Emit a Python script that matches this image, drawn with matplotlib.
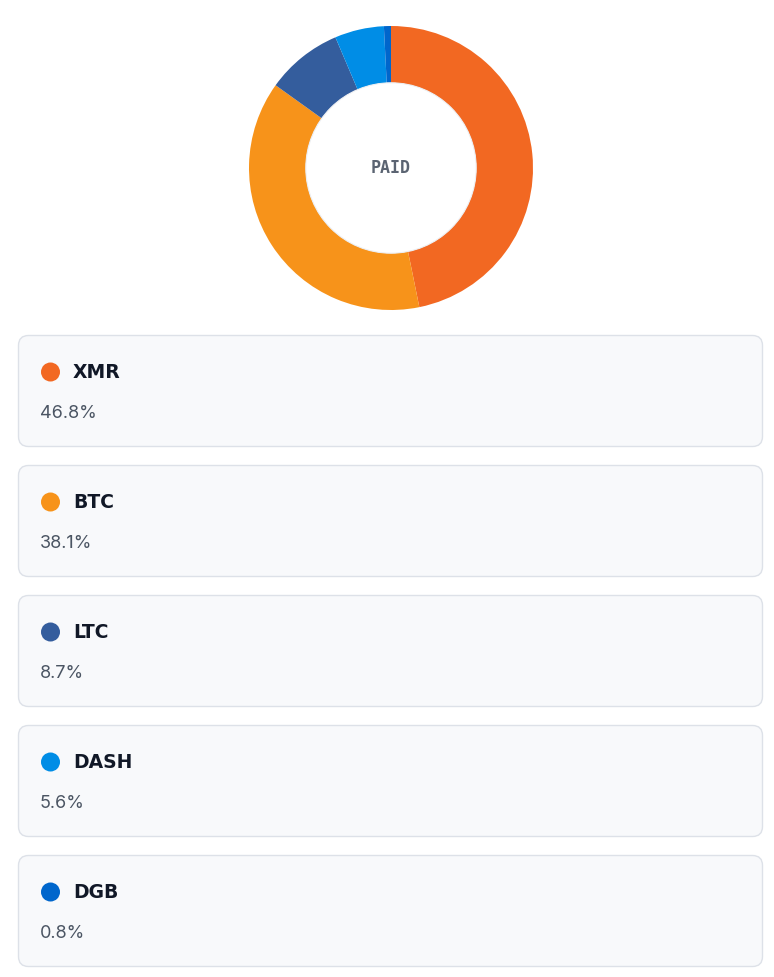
import matplotlib.pyplot as plt
from matplotlib.patches import FancyBboxPatch, Circle

# data
coins = ["XMR", "BTC", "LTC", "DASH", "DGB"]
shares = [46.8, 38.1, 8.7, 5.6, 0.8]
labels = ["46.8%", "38.1%", "8.7%", "5.6%", "0.8%"]
colors = ["#F26822", "#F7931A", "#345D9D", "#008DE6", "#0066CC"]
center_label = "PAID"

W, H = 774, 977
fig = plt.figure(figsize=(W / 100, H / 100), dpi=100)
fig.patch.set_facecolor("white")

# background axes in pixel units for the cards
bg = fig.add_axes([0, 0, 1, 1])
bg.set_xlim(0, W)
bg.set_ylim(H, 0)
bg.axis("off")

card_top = 335
card_h = 112
card_gap = 18
for i, (coin, lab, col) in enumerate(zip(coins, labels, colors)):
    y0 = card_top + i * (card_h + card_gap)
    box = FancyBboxPatch((18.5, y0 + 0.5), 744, card_h - 1,
                         boxstyle="round,pad=0,rounding_size=10",
                         facecolor="#F8F9FB", edgecolor="#DDE1E8", linewidth=1)
    bg.add_patch(box)
    bg.add_patch(Circle((50.5, y0 + 37), 9.5, color=col, linewidth=0))
    bg.text(73, y0 + 37, coin, fontsize=13.5, fontweight="bold", color="#111827",
            family="DejaVu Sans", va="center", ha="left")
    bg.text(40, y0 + 78, lab, fontsize=13, color="#4B5563",
            family="Inter", va="center", ha="left")

# donut chart
cx, cy, r = 391, 168, 142
pie_ax = fig.add_axes([(cx - r) / W, (H - cy - r) / H, 2 * r / W, 2 * r / H])
pie_ax.pie(shares, colors=colors, startangle=90, counterclock=False,
           radius=1, wedgeprops=dict(width=0.4, linewidth=0))
pie_ax.add_patch(Circle((0, 0), 0.6, facecolor="white", edgecolor="#ECEEF1", linewidth=0.8))
pie_ax.text(0, 0, center_label, fontsize=12, fontweight="bold", color="#5B6472",
            family="DejaVu Sans Mono", ha="center", va="center")
pie_ax.set_xlim(-1, 1)
pie_ax.set_ylim(-1, 1)
pie_ax.axis("off")

fig.savefig("out.png", dpi=100, facecolor="white")
